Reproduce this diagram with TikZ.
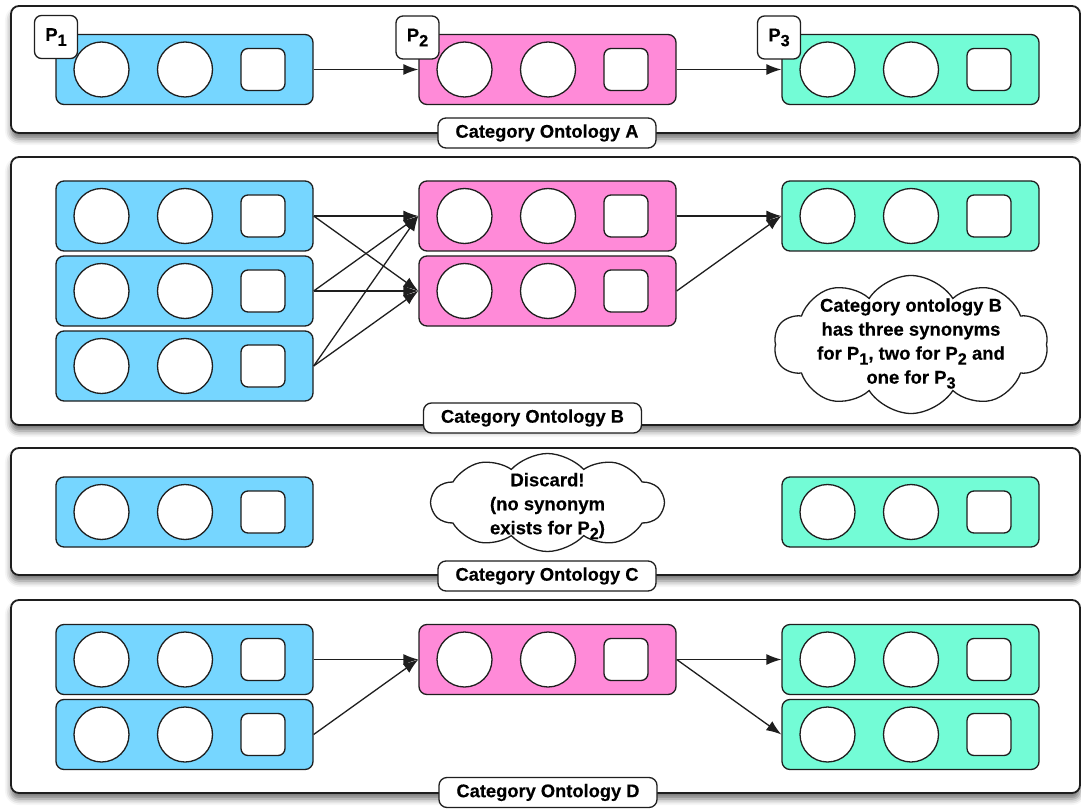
\documentclass[tikz,border=0pt]{standalone}
\usepackage{fontspec}
\setmainfont{Liberation Sans}[BoldFeatures={FakeBold=0.3}]
\usetikzlibrary{arrows.meta,shapes.symbols,shadows.blur}

\definecolor{sky}{HTML}{76D6FF}
\definecolor{carnation}{HTML}{FF8AD8}
\definecolor{seafoam}{HTML}{73FCD6}
\definecolor{ink}{HTML}{1E1E1E}

\tikzset{
  panel/.style={draw=ink, line width=1.8pt, fill=white, rounded corners=8pt, inner sep=0pt,
    blur shadow={shadow xshift=0pt, shadow yshift=-6pt, shadow blur radius=6pt, shadow opacity=55}},
  stripbox/.style={draw=ink, line width=1.3pt, rounded corners=8pt, minimum width=257pt,
    minimum height=70pt, inner sep=0pt},
  disc/.style={circle, draw=ink, line width=1.3pt, fill=white, minimum size=55pt, inner sep=0pt},
  slot/.style={draw=ink, line width=1.3pt, fill=white, rounded corners=7pt, minimum width=44pt,
    minimum height=42pt, inner sep=0pt},
  tag/.style={draw=ink, line width=1.3pt, fill=white, rounded corners=7pt, minimum width=43pt,
    minimum height=43pt, inner sep=0pt, font=\bfseries\fontsize{18.5}{20}\selectfont},
  caption/.style={draw=ink, line width=1.3pt, fill=white, rounded corners=8pt, minimum width=218pt,
    minimum height=30pt, inner sep=0pt, font=\bfseries\fontsize{18.3}{20}\selectfont},
  link/.style={draw=ink, line width=1.3pt, -{Latex[length=15pt,width=11pt]}},
  puff/.style={cloud, cloud puffs=10, cloud puff arc=115, cloud ignores aspect, draw=ink,
    line width=1.3pt, fill=white, inner sep=0pt},
  note/.style={align=center, font=\bfseries\fontsize{18.5}{24}\selectfont, inner sep=0pt}
}

% a coloured strip holding two discs and one rounded square
\newcommand\strip[4]{%
  \node[stripbox, fill=#2] (#1) at (#3,#4) {};
  \node[disc] (#1-c1) at ([xshift=-83pt]#1.center) {};
  \node[disc] (#1-c2) at ([xshift=0.5pt]#1.center) {};
  \node[slot] (#1-sq) at ([xshift=78.5pt]#1.center) {};
}
% P with a lowered index
\newcommand\Psub[1]{P\raisebox{-0.5ex}{\scalebox{0.88}{#1}}}

\begin{document}
\begin{tikzpicture}[x=1pt, y={(0pt,-1pt)}]
\useasboundingbox (0,0) rectangle (1081,810);

% panels
\node[panel, minimum width=1069pt, minimum height=127pt] (panelA) at (545.5,69.5) {};
\node[panel, minimum width=1069pt, minimum height=268pt] (panelB) at (545.5,291) {};
\node[panel, minimum width=1069pt, minimum height=127pt] (panelC) at (545.5,511.5) {};
\node[panel, minimum width=1069pt, minimum height=193pt] (panelD) at (545.5,696.5) {};

% ontology A
\strip{a1}{sky}{184.5}{69.5}
\strip{a2}{carnation}{547.5}{69.5}
\strip{a3}{seafoam}{910.5}{69.5}
\draw[link] (a1.east) -- (a2.west);
\draw[link] (a2.east) -- (a3.west);
\node[tag] (tag1) at (56,37) {\Psub{1}};
\node[tag] (tag2) at (417.5,37.5) {\Psub{2}};
\node[tag] (tag3) at (779,37.5) {\Psub{3}};

% ontology B
\strip{b1}{sky}{184.5}{216}
\strip{b2}{sky}{184.5}{291}
\strip{b3}{sky}{184.5}{366}
\strip{b4}{carnation}{547.5}{216}
\strip{b5}{carnation}{547.5}{291}
\strip{b6}{seafoam}{910.5}{216}
\foreach \s in {b1,b2,b3}
  \foreach \t in {b4,b5}
    \draw[link] (\s.east) -- (\t.west);
\draw[link] (b4.east) -- (b6.west);
\draw[link] (b5.east) -- (b6.west);

\node[puff, minimum width=274pt, minimum height=138pt] (cloudB) at (911,344.5) {};
\node[note] (cloudBtext) at (911,343.5) {Category ontology B\\has three synonyms\\for \Psub{1}, two for \Psub{2} and\\one for \Psub{3}};

% ontology C
\node[puff, cloud puffs=10, cloud puff arc=95, minimum width=232pt, minimum height=98pt] (cloudC) at (547.5,502.5) {};
\node[note] (cloudCtext) at (547.5,506) {Discard!\\(no synonym\\exists for \Psub{2})};
\strip{c1}{sky}{184.5}{512}
\strip{c2}{seafoam}{910.5}{512}

% ontology D
\strip{d1}{sky}{184.5}{659.5}
\strip{d2}{sky}{184.5}{734.5}
\strip{d3}{carnation}{547.5}{659.5}
\strip{d4}{seafoam}{910.5}{659.5}
\strip{d5}{seafoam}{910.5}{734.5}
\draw[link] (d1.east) -- (d3.west);
\draw[link] (d2.east) -- (d3.west);
\draw[link] (d3.east) -- (d4.west);
\draw[link] (d3.east) -- (d5.west);

% captions
\node[caption] (capA) at (547,133) {Category Ontology A};
\node[caption] (capB) at (532.5,418) {Category Ontology B};
\node[caption] (capC) at (547,576) {Category Ontology C};
\node[caption] (capD) at (548,792.5) {Category Ontology D};
\end{tikzpicture}
\end{document}
